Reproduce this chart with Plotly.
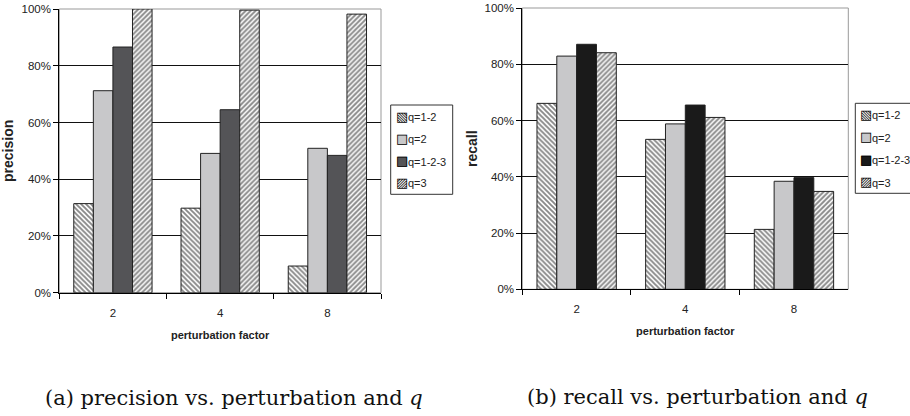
import plotly.graph_objects as go

categories = ["2", "4", "8"]
series_names = ["q=1-2", "q=2", "q=1-2-3", "q=3"]
precision_q12 = [31.4, 29.8, 9.4]
precision_q2 = [71.2, 49.1, 50.9]
precision_q123 = [86.6, 64.5, 48.4]
precision_q3 = [100.0, 99.6, 98.2]
recall_q12 = [66.1, 53.3, 21.3]
recall_q2 = [82.9, 58.8, 38.4]
recall_q123 = [87.1, 65.5, 39.7]
recall_q3 = [84.1, 61.1, 34.8]
y_ticks = [0, 20, 40, 60, 80, 100]
y_ticklabels = ["0%", "20%", "40%", "60%", "80%", "100%"]

precision = [precision_q12, precision_q2, precision_q123, precision_q3]
recall = [recall_q12, recall_q2, recall_q123, recall_q3]

SANS = "Liberation Sans, Arial, sans-serif"
LIGHT = "#c8c8ca"
DARK_A = "#545457"
DARK_B = "#1a1a1a"

def styles(dark):
    return [
        dict(color="white", pattern=dict(shape="\\", size=3.5, solidity=0.55, fgcolor="#111", bgcolor="white")),
        dict(color=LIGHT),
        dict(color=dark),
        dict(color="white", pattern=dict(shape="/", size=3.5, solidity=0.55, fgcolor="#111", bgcolor="white")),
    ]

fig = go.Figure()
for i, name in enumerate(series_names):
    st = styles(DARK_A)[i]
    fig.add_trace(go.Bar(x=categories, y=precision[i], name=name, xaxis="x", yaxis="y",
                         showlegend=False,
                         marker=dict(line=dict(color="#222", width=1), **st)))
for i, name in enumerate(series_names):
    st = styles(DARK_B)[i]
    fig.add_trace(go.Bar(x=categories, y=recall[i], name=name, xaxis="x2", yaxis="y2",
                         showlegend=False,
                         marker=dict(line=dict(color="#222", width=1), **st)))

H = 416.0
W = 910.0
def ydom(top, bottom):
    return [(H - bottom) / H, (H - top) / H]
def px(x):
    return x / W
def py(y):
    return (H - y) / H

xaxis_common = dict(type="category", showline=True, linecolor="black", linewidth=1,
                    ticks="outside", tickson="boundaries", ticklen=5, tickcolor="black",
                    ticklabelstandoff=9,
                    tickfont=dict(family=SANS, size=11.5, color="#222"), showgrid=False,
                    title=dict(text="<b>perturbation factor</b>", font=dict(family=SANS, size=11, color="#222"), standoff=13))
yaxis_common = dict(range=[0, 100], tickvals=y_ticks, ticktext=y_ticklabels, showline=True,
                    linecolor="black", linewidth=1, ticks="outside", ticklen=5, tickcolor="black",
                    tickfont=dict(family=SANS, size=11.5, color="#222"), showgrid=True,
                    gridcolor="#111", gridwidth=1, zeroline=False)

# hand-built legends (swatch glyph + label) placed like the reference boxes
shapes = [
    dict(type="rect", xref="x domain", yref="y domain", x0=0, x1=1, y0=0, y1=1,
         line=dict(color="#999", width=1), layer="below"),
    dict(type="rect", xref="x2 domain", yref="y2 domain", x0=0, x1=1, y0=0, y1=1,
         line=dict(color="#999", width=1), layer="below"),
    dict(type="rect", xref="paper", yref="paper", x0=px(390.7), x1=px(452.7), y0=py(194.3), y1=py(105),
         line=dict(color="#333", width=1), fillcolor="white", layer="above"),
    dict(type="rect", xref="paper", yref="paper", x0=px(855.3), x1=px(930), y0=py(193.3), y1=py(103.3),
         line=dict(color="#333", width=1), fillcolor="white", layer="above"),
]

annotations = [
    dict(text="(a) precision vs. perturbation and <i>q</i>", xref="paper", yref="paper",
         x=px(234), y=py(398), xanchor="center", yanchor="middle", showarrow=False,
         font=dict(family="DejaVu Serif, serif", size=21, color="#111")),
    dict(text="(b) recall vs. perturbation and <i>q</i>", xref="paper", yref="paper",
         x=px(697), y=py(397), xanchor="center", yanchor="middle", showarrow=False,
         font=dict(family="DejaVu Serif, serif", size=21, color="#111")),
]

def add_legend(sw_x, text_x, rows_y, dark):
    glyphs = [
        [("▧", "black")],
        [("■", LIGHT), ("□", "black")],
        [("■", dark), ("□", "black")],
        [("▨", "black")],
    ]
    for i, name in enumerate(series_names):
        for g, c in glyphs[i]:
            annotations.append(dict(text=g, xref="paper", yref="paper", x=px(sw_x), y=py(rows_y[i] - 1),
                                    xanchor="center", yanchor="middle", showarrow=False,
                                    font=dict(family="DejaVu Sans", size=13, color=c)))
        annotations.append(dict(text=name, xref="paper", yref="paper", x=px(text_x), y=py(rows_y[i]),
                                xanchor="left", yanchor="middle", showarrow=False,
                                font=dict(family=SANS, size=11, color="#222")))

add_legend(401.5, 405.5, [117.3, 139.3, 161.7, 183.3], DARK_A)
add_legend(866.3, 870.0, [115, 137.7, 160, 182.7], DARK_B)

fig.update_layout(
    width=910, height=416, margin=dict(l=0, r=0, t=0, b=0, autoexpand=False),
    paper_bgcolor="white", plot_bgcolor="white",
    barmode="group", bargap=0.27, bargroupgap=0, showlegend=False,
    xaxis=dict(domain=[px(59.3), px(381)], anchor="y", **xaxis_common),
    yaxis=dict(domain=ydom(9, 292.7), anchor="x",
               title=dict(text="<b>precision</b>", font=dict(family=SANS, size=14, color="#222"), standoff=4),
               **yaxis_common),
    xaxis2=dict(domain=[px(522.3), px(848.3)], anchor="y2", **xaxis_common),
    yaxis2=dict(domain=ydom(8, 289.3), anchor="x2",
                title=dict(text="<b>recall</b>", font=dict(family=SANS, size=14, color="#222"), standoff=3),
                **yaxis_common),
    shapes=shapes,
    annotations=annotations,
)

fig.write_html("out.html")
